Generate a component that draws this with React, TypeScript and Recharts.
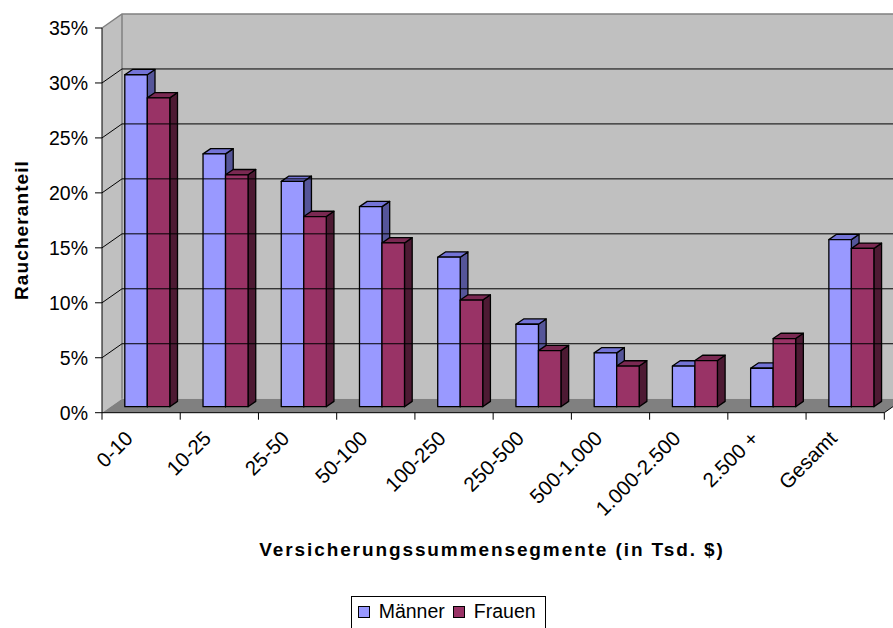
import React from "react";
import {
  BarChart,
  Bar,
  XAxis,
  YAxis,
  ReferenceArea,
  ReferenceLine,
} from "recharts";

const categories = [
  "0-10",
  "10-25",
  "25-50",
  "50-100",
  "100-250",
  "250-500",
  "500-1.000",
  "1.000-2.500",
  "2.500 +",
  "Gesamt",
];
const maenner = [30.2, 23.0, 20.5, 18.2, 13.6, 7.5, 4.9, 3.7, 3.5, 15.2];
const frauen = [28.1, 21.1, 17.3, 14.9, 9.7, 5.1, 3.7, 4.2, 6.2, 14.4];
const yTicks = [0, 5, 10, 15, 20, 25, 30, 35];
const gridValues = [5, 10, 15, 20, 25, 30];

const chartData = categories.map((name, i) => ({
  name,
  maenner: maenner[i],
  frauen: frauen[i],
}));

const FONT = "'Liberation Sans', Arial, sans-serif";
const W = 893;
const H = 628;
const PLOT_TOP = 28;
const PLOT_BOTTOM = 412.7;
const PLOT_LEFT = 102;
const PLOT_RIGHT = 884.3;
const XAXIS_H = 160;

// 3d offsets
const WALL_DX = 20;
const WALL_DY = 14;
const BAR_DX = 5.8;
const BAR_DY = 6;
const DEPTH_DX = 7.7;
const DEPTH_DY = 5.3;

const BAND = (PLOT_RIGHT - PLOT_LEFT) / categories.length;

const blue = { front: "#9999FF", top: "#7373D6", side: "#555599" };
const red = { front: "#993366", top: "#7A2952", side: "#4D1A33" };

function Walls(props: any) {
  const { x, y, width, height } = props;
  const b = y + height;
  return (
    <g>
      <polygon
        points={`${x},${y} ${x + WALL_DX},${y - WALL_DY} ${x + WALL_DX},${b - WALL_DY} ${x},${b}`}
        fill="#C0C0C0"
      />
      <rect x={x + WALL_DX} y={y - WALL_DY} width={width + 40} height={height} fill="#C0C0C0" />
      <polygon
        points={`${x},${b} ${x + WALL_DX},${b - WALL_DY} ${x + width + WALL_DX},${b - WALL_DY} ${x + width},${b}`}
        fill="#808080"
      />
      <polyline
        points={`${x},${y} ${x + WALL_DX},${y - WALL_DY} ${x + width + WALL_DX + 40},${y - WALL_DY}`}
        fill="none"
        stroke="#808080"
        strokeWidth={1.5}
      />
      <line
        x1={x + WALL_DX}
        y1={y - WALL_DY}
        x2={x + WALL_DX}
        y2={b - WALL_DY}
        stroke="#808080"
        strokeWidth={1.5}
      />
      <line
        x1={x + width}
        y1={b}
        x2={x + width + WALL_DX}
        y2={b - WALL_DY}
        stroke="#000"
        strokeWidth={1}
      />
    </g>
  );
}

function GridLine(props: any) {
  const { x1, y1, x2 } = props;
  return (
    <polyline
      points={`${x1},${y1} ${x1 + WALL_DX},${y1 - WALL_DY} ${x2 + WALL_DX + 40},${y1 - WALL_DY}`}
      fill="none"
      stroke="#000"
      strokeWidth={1}
    />
  );
}

function makeBox(c: { front: string; top: string; side: string }) {
  return (props: any) => {
    const { x, y, width, height } = props;
    if (height == null || width == null) return null;
    const fx = x + BAR_DX;
    const fy = y - BAR_DY;
    const w = width;
    const h = height;
    return (
      <g stroke="#000" strokeWidth={1.3} strokeLinejoin="round">
        <polygon
          points={`${fx + w},${fy} ${fx + w + DEPTH_DX},${fy - DEPTH_DY} ${fx + w + DEPTH_DX},${fy + h - DEPTH_DY} ${fx + w},${fy + h}`}
          fill={c.side}
        />
        <polygon
          points={`${fx},${fy} ${fx + DEPTH_DX},${fy - DEPTH_DY} ${fx + w + DEPTH_DX},${fy - DEPTH_DY} ${fx + w},${fy}`}
          fill={c.top}
        />
        <rect x={fx} y={fy} width={w} height={h} fill={c.front} />
      </g>
    );
  };
}

function XTick(props: any) {
  const { x, y, payload, index } = props;
  const left = x - BAND / 2;
  const right = x + BAND / 2;
  return (
    <g>
      <line x1={left} y1={y} x2={left} y2={y + 7} stroke="#000" />
      {index === categories.length - 1 && (
        <line x1={right} y1={y} x2={right} y2={y + 7} stroke="#000" />
      )}
      <text
        x={0}
        y={0}
        transform={`translate(${x - 7},${y + 27}) rotate(-45)`}
        textAnchor="end"
        fontSize={20.5}
        fontFamily={FONT}
        fill="#000"
      >
        {payload.value}
      </text>
    </g>
  );
}

function XTitle() {
  return (
    <text
      x={492}
      y={556}
      textAnchor="middle"
      fontSize={19}
      fontWeight="bold"
      fontFamily={FONT}
      letterSpacing={1.9}
      fill="#000"
    >
      Versicherungssummensegmente (in Tsd. $)
    </text>
  );
}

function YTitle() {
  return (
    <text
      x={28}
      y={230}
      transform="rotate(-90, 28, 230)"
      textAnchor="middle"
      fontSize={19}
      fontWeight="bold"
      fontFamily={FONT}
      letterSpacing={1.1}
      fill="#000"
    >
      Raucheranteil
    </text>
  );
}

const legendItems = [
  { name: "Männer", color: blue.front },
  { name: "Frauen", color: red.front },
];

export default function App() {
  return (
    <div style={{ position: "absolute", left: 0, top: 0, width: W, height: H, background: "#fff" }}>
      <BarChart
        width={W}
        height={H}
        data={chartData}
        margin={{ top: PLOT_TOP, right: W - PLOT_RIGHT, left: 0, bottom: H - PLOT_BOTTOM - XAXIS_H }}
        barSize={22.5}
        barGap={0}
      >
        <ReferenceArea y1={0} y2={35} shape={(p: any) => <Walls {...p} />} />
        {gridValues.map((v) => (
          <ReferenceLine key={v} y={v} shape={(p: any) => <GridLine {...p} />} />
        ))}
        <XAxis
          dataKey="name"
          height={XAXIS_H}
          interval={0}
          tickSize={0}
          tickMargin={0}
          tickLine={false}
          axisLine={{ stroke: "#000", strokeWidth: 1 }}
          tick={<XTick />}
          label={{ content: () => <XTitle /> }}
        />
        <YAxis
          width={PLOT_LEFT}
          domain={[0, 35]}
          ticks={yTicks}
          interval={0}
          tickFormatter={(v: number) => `${v}%`}
          tickSize={7}
          tickMargin={7}
          axisLine={{ stroke: "#000", strokeWidth: 1 }}
          tickLine={{ stroke: "#000" }}
          tick={{ fill: "#000", fontSize: 19.5, fontFamily: FONT }}
          label={{ content: () => <YTitle /> }}
        />
        <Bar dataKey="maenner" name="Männer" fill={blue.front} shape={makeBox(blue)} isAnimationActive={false} />
        <Bar dataKey="frauen" name="Frauen" fill={red.front} shape={makeBox(red)} isAnimationActive={false} />
      </BarChart>
      <div
        style={{
          position: "absolute",
          left: 350.7,
          top: 596,
          width: 195,
          height: 40,
          border: "1px solid #000",
          background: "#fff",
          boxSizing: "border-box",
          fontFamily: FONT,
          fontSize: 19.5,
          display: "flex",
          alignItems: "flex-start",
          paddingTop: 3,
          paddingLeft: 6,
        }}
      >
        {legendItems.map((it) => (
          <span key={it.name} style={{ display: "flex", alignItems: "center", marginRight: 8 }}>
            <span
              style={{
                width: 10,
                height: 10,
                border: "1px solid #000",
                background: it.color,
                display: "inline-block",
                marginRight: 9,
              }}
            />
            {it.name}
          </span>
        ))}
      </div>
    </div>
  );
}
